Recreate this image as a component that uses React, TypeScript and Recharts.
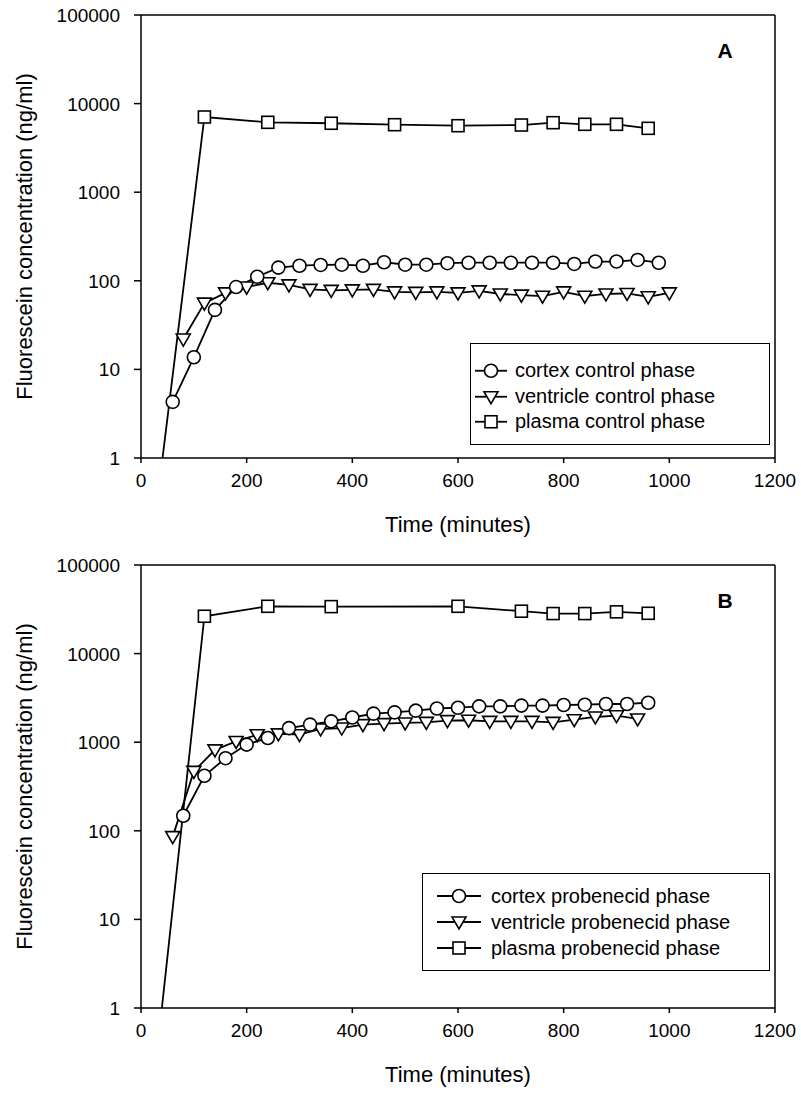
import React from "react";
import { LineChart, Line, XAxis, YAxis, ReferenceLine, Legend } from "recharts";

const FONT = "'Liberation Sans', Arial, Helvetica, sans-serif";

// axis ticks
const timeTicks = [0, 200, 400, 600, 800, 1000, 1200];
const concTicks = [1, 10, 100, 1000, 10000, 100000];

// Panel A - control phase
const cortexControlTime = [60, 100, 140, 180, 220, 260, 300, 340, 380, 420, 460, 500, 540, 580, 620, 660, 700, 740, 780, 820, 860, 900, 940, 980];
const cortexControlConc = [4.3, 13.7, 47, 85, 111, 141, 148, 151, 152, 148, 162, 152, 152, 158, 160, 160, 160, 160, 160, 155, 165, 165, 172, 160];
const ventricleControlTime = [80, 120, 160, 200, 240, 280, 320, 360, 400, 440, 480, 520, 560, 600, 640, 680, 720, 760, 800, 840, 880, 920, 960, 1000];
const ventricleControlConc = [22, 56, 73, 85, 95, 90, 80, 78, 79, 80, 75, 74, 75, 73, 77, 71, 69, 67, 75, 67, 71, 72, 66, 73];
const plasmaControlTime = [30, 120, 240, 360, 480, 600, 720, 780, 840, 900, 960];
const plasmaControlConc = [0.3, 7060, 6150, 6000, 5780, 5630, 5730, 6090, 5840, 5840, 5260];

// Panel B - probenecid phase
const cortexProbTime = [80, 120, 160, 200, 240, 280, 320, 360, 400, 440, 480, 520, 560, 600, 640, 680, 720, 760, 800, 840, 880, 920, 960];
const cortexProbConc = [148, 418, 660, 940, 1115, 1440, 1580, 1720, 1900, 2100, 2170, 2270, 2400, 2450, 2540, 2540, 2590, 2590, 2630, 2650, 2700, 2700, 2790];
const ventricleProbTime = [60, 100, 140, 180, 220, 260, 300, 340, 380, 420, 460, 500, 540, 580, 620, 660, 700, 740, 780, 820, 860, 900, 940];
const ventricleProbConc = [86, 468, 820, 1020, 1215, 1240, 1215, 1410, 1445, 1580, 1620, 1650, 1675, 1750, 1770, 1718, 1718, 1718, 1675, 1795, 1926, 1990, 1830];
const plasmaProbTime = [30, 120, 240, 360, 600, 720, 780, 840, 900, 960];
const plasmaProbConc = [0.3, 26400, 34200, 33900, 34200, 30100, 28300, 28300, 29600, 28500];

type Pt = { t: number; v: number };
type Kind = "circle" | "triangle" | "square";
type Series = { name: string; kind: Kind; data: Pt[] };
type LegendBox = { left: number; top: number; w: number; h: number; padTop: number; rowH: number; lineX1: number; lineX2: number; textX: number };

const zip = (ts: number[], vs: number[]): Pt[] => ts.map((t, i) => ({ t, v: vs[i] }));

function Marker({ kind, cx, cy }: { kind: Kind; cx: number; cy: number }) {
  const common = { fill: "#fff", stroke: "#000", strokeWidth: 1.6 };
  if (kind === "circle") return <circle cx={cx} cy={cy} r={6.5} {...common} />;
  if (kind === "square") return <rect x={cx - 6} y={cy - 6} width={12} height={12} {...common} />;
  return <polygon points={`${cx - 7},${cy - 5} ${cx + 7},${cy - 5} ${cx},${cy + 7}`} {...common} />;
}

const dotFor = (kind: Kind) => (props: any) => {
  const { cx, cy, index, payload } = props;
  if (cx == null || cy == null || !payload || payload.v < 1) return <g key={`d-${index}`} />;
  return (
    <g key={`d-${index}`}>
      <Marker kind={kind} cx={cx} cy={cy} />
    </g>
  );
};

const XTick = (props: any) => {
  const { x, y, payload } = props;
  return (
    <text x={x} y={y} dy={24} textAnchor="middle" fontSize={19} fontFamily={FONT} fill="#000">
      {payload.value}
    </text>
  );
};

const YTick = (props: any) => {
  const { x, y, payload } = props;
  return (
    <text x={x} y={y} dy={7} textAnchor="end" fontSize={19} fontFamily={FONT} fill="#000">
      {payload.value}
    </text>
  );
};

function PanelLegend({ series, box }: { series: Series[]; box: LegendBox }) {
  const { w, h, padTop, rowH, lineX1, lineX2, textX } = box;
  return (
    <div
      style={{
        width: w,
        height: h,
        boxSizing: "border-box",
        border: "1.5px solid #000",
        background: "#fff",
        paddingTop: padTop,
        fontFamily: FONT,
        fontSize: 20,
        color: "#000",
      }}
    >
      {series.map((s) => (
        <div key={s.name} style={{ height: rowH, position: "relative" }}>
          <svg width={textX} height={rowH} style={{ position: "absolute", left: 0, top: 0 }}>
            <line x1={lineX1} x2={lineX2} y1={rowH / 2} y2={rowH / 2} stroke="#000" strokeWidth={1.8} />
            <Marker kind={s.kind} cx={(lineX1 + lineX2) / 2} cy={rowH / 2} />
          </svg>
          <span style={{ position: "absolute", left: textX, whiteSpace: "nowrap", lineHeight: `${rowH}px` }}>{s.name}</span>
        </div>
      ))}
    </div>
  );
}

// legend order in the picture: cortex, ventricle, plasma
const legendOrder = (s: Series[]) => [s[2], s[1], s[0]];

function Panel({ letter, series, legendBox }: { letter: string; series: Series[]; legendBox: LegendBox }) {
  return (
    <LineChart width={801} height={548} margin={{ top: 15, right: 26, bottom: 30, left: 41 }}>
      <XAxis
        type="number"
        dataKey="t"
        domain={[0, 1200]}
        ticks={timeTicks}
        allowDataOverflow
        height={60}
        stroke="#000"
        strokeWidth={1.5}
        tickSize={5}
        tickMargin={0}
        tick={XTick}
        label={{
          content: (p: any) => {
            const vb = p.viewBox;
            return (
              <text x={vb.x + vb.width / 2} y={532} textAnchor="middle" fontSize={22} fontFamily={FONT} fill="#000">
                Time (minutes)
              </text>
            );
          },
        }}
      />
      <YAxis
        type="number"
        scale="log"
        domain={[1, 100000]}
        ticks={concTicks}
        allowDataOverflow
        width={100}
        stroke="#000"
        strokeWidth={1.5}
        tickSize={7}
        tickMargin={14}
        tick={YTick}
        label={{
          content: (p: any) => {
            const vb = p.viewBox;
            const cy = vb.y + vb.height / 2;
            return (
              <text x={32} y={cy} transform={`rotate(-90 32 ${cy})`} textAnchor="middle" fontSize={22} fontFamily={FONT} fill="#000">
                Fluorescein concentration (ng/ml)
              </text>
            );
          },
        }}
      />
      <ReferenceLine
        y={100000}
        stroke="#000"
        strokeWidth={1.5}
        label={{
          content: () => (
            <text x={725} y={58} textAnchor="middle" fontSize={21} fontWeight="bold" fontFamily={FONT} fill="#000">
              {letter}
            </text>
          ),
        }}
      />
      <ReferenceLine x={1200} stroke="#000" strokeWidth={1.5} />
      {series.map((s) => (
        <Line
          key={s.name}
          data={s.data}
          dataKey="v"
          name={s.name}
          type="linear"
          stroke="#000"
          strokeWidth={1.8}
          dot={dotFor(s.kind)}
          activeDot={false}
          isAnimationActive={false}
        />
      ))}
      <Legend
        layout="vertical"
        align="center"
        verticalAlign="middle"
        wrapperStyle={{ left: legendBox.left, top: legendBox.top, width: legendBox.w, height: legendBox.h }}
        content={() => <PanelLegend series={legendOrder(series)} box={legendBox} />}
      />
    </LineChart>
  );
}

const controlSeries: Series[] = [
  { name: "plasma control phase", kind: "square", data: zip(plasmaControlTime, plasmaControlConc) },
  { name: "ventricle control phase", kind: "triangle", data: zip(ventricleControlTime, ventricleControlConc) },
  { name: "cortex control phase", kind: "circle", data: zip(cortexControlTime, cortexControlConc) },
];

const probSeries: Series[] = [
  { name: "plasma probenecid phase", kind: "square", data: zip(plasmaProbTime, plasmaProbConc) },
  { name: "ventricle probenecid phase", kind: "triangle", data: zip(ventricleProbTime, ventricleProbConc) },
  { name: "cortex probenecid phase", kind: "circle", data: zip(cortexProbTime, cortexProbConc) },
];

export default function App() {
  return (
    <div style={{ position: "absolute", left: 0, top: 0, width: 801, height: 1096, background: "#fff" }}>
      <div style={{ position: "absolute", left: 0, top: 0 }}>
        <Panel
          letter="A"
          series={controlSeries}
          legendBox={{ left: 470, top: 343, w: 300, h: 102, padTop: 14, rowH: 25.5, lineX1: 4, lineX2: 36, textX: 44 }}
        />
      </div>
      <div style={{ position: "absolute", left: 0, top: 550 }}>
        <Panel
          letter="B"
          series={probSeries}
          legendBox={{ left: 422, top: 323, w: 348, h: 98, padTop: 9, rowH: 26, lineX1: 14, lineX2: 58, textX: 68 }}
        />
      </div>
    </div>
  );
}
